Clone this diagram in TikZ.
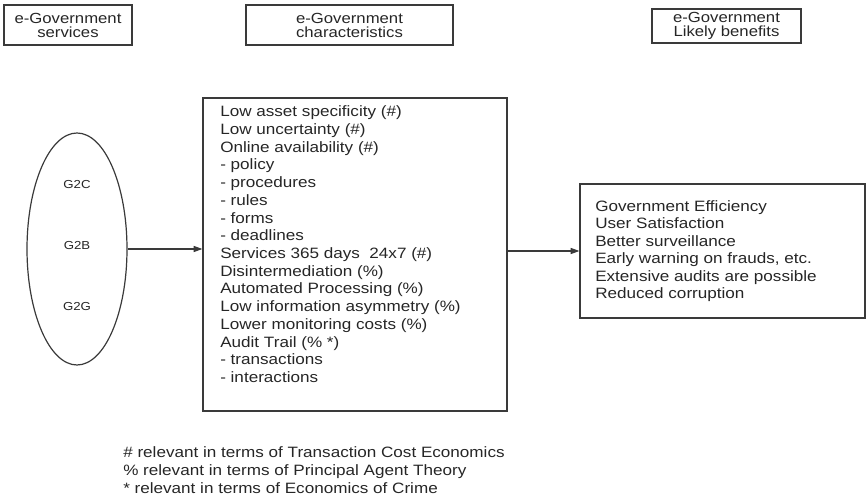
\documentclass[tikz,border=0pt]{standalone}
\usepackage{fontspec}
\setmainfont[FakeStretch=1.14]{Liberation Sans}
\usetikzlibrary{arrows.meta,shapes.geometric,positioning}
\definecolor{inkgray}{HTML}{262626}
\definecolor{linegray}{HTML}{3A3A3A}
\tikzset{
  titlebox/.style={draw=linegray,line width=1.1pt,align=center,text=inkgray,
    inner sep=0pt,font=\fontsize{11}{10.5}\selectfont},
  framebox/.style={draw=linegray,line width=0.9pt,inner sep=0pt},
  listtext/.style={align=left,inner sep=0pt,text=inkgray,
    font=\fontsize{11.25}{13.3}\selectfont},
  svclabel/.style={inner sep=0pt,text=inkgray,font=\fontsize{8.7}{10}\selectfont},
  flow/.style={->,draw=linegray,line width=0.9pt}
}

\begin{document}
\begin{tikzpicture}[x=0.75pt,y=-0.75pt,>={Triangle[length=6.5pt,width=4.5pt]}]
  \useasboundingbox (0,0) rectangle (866,498);
  % column headings
  \node[titlebox,minimum width=128*0.75pt,minimum height=40*0.75pt] (svcTitle)
    at (68,25) {e-Government\\services};
  \node[titlebox,minimum width=207*0.75pt,minimum height=40*0.75pt] (charTitle)
    at (349.5,25) {e-Government\\characteristics};
  \node[titlebox,minimum width=149*0.75pt,minimum height=34*0.75pt] (benTitle)
    at (726.5,26) {e-Government\\Likely benefits};
  % services
  \node[ellipse,framebox,minimum width=100*0.75pt,minimum height=232*0.75pt]
    (svcSet) at (77,249) {};
  \foreach \kind/\yy in {G2C/185,G2B/246,G2G/307}
    \node[svclabel] (\kind) at (77,\yy) {\kind};
  % characteristics
  \node[framebox,minimum width=304*0.75pt,minimum height=313*0.75pt] (charBox)
    at (355,254.5) {};
  \node[listtext,anchor=north west] (charText) at (220,105.5) {%
    Low asset specificity (\#)\\
    Low uncertainty (\#)\\
    Online availability (\#)\\
    - policy\\
    - procedures\\
    - rules\\
    - forms\\
    - deadlines\\
    Services 365 days\ \ 24x7 (\#)\\
    Disintermediation (\%)\\
    Automated Processing (\%)\\
    Low information asymmetry (\%)\\
    Lower monitoring costs (\%)\\
    Audit Trail (\% *)\\
    - transactions\\
    - interactions};
  % benefits
  \node[framebox,minimum width=285*0.75pt,minimum height=134*0.75pt] (benBox)
    at (722.5,251) {};
  \node[listtext,anchor=north west,font=\fontsize{11.25}{13.1}\selectfont] (benText)
    at (595,200) {%
    Government Efficiency\\
    User Satisfaction\\
    Better surveillance\\
    Early warning on frauds, etc.\\
    Extensive audits are possible\\
    Reduced corruption};
  % connectors
  \draw[flow] (svcSet.east) -- (svcSet.east -| charBox.west);
  \draw[flow] (charBox.east |- benBox.west) -- (benBox.west);
  % legend
  \node[listtext,anchor=north west,font=\fontsize{11.25}{13.5}\selectfont] (legend)
    at (123,446) {%
    \# relevant in terms of Transaction Cost Economics\\
    \% relevant in terms of Principal Agent Theory\\
    * relevant in terms of Economics of Crime};
\end{tikzpicture}
\end{document}
